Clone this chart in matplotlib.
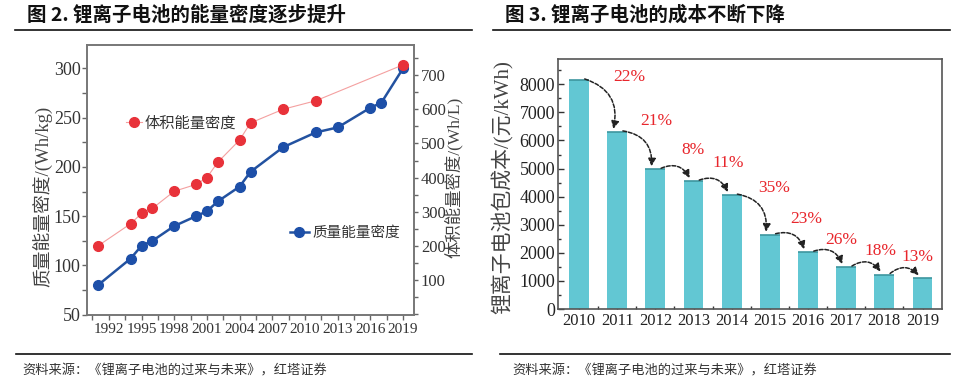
import matplotlib
matplotlib.use('Agg')
import matplotlib.pyplot as plt
from matplotlib.lines import Line2D
from matplotlib.ticker import MultipleLocator, FixedLocator
import numpy as np

plt.rcParams['font.family'] = ['Liberation Serif', 'Noto Sans CJK SC']

# ---------------- data ----------------
vol_years = [1991, 1994, 1995, 1996, 1998, 2000, 2001, 2002, 2004, 2005, 2008, 2011, 2019]
vol_values = [200, 265, 295, 310, 360, 380, 400, 445, 510, 560, 600, 625, 730]
grav_years = [1991, 1994, 1995, 1996, 1998, 2000, 2001, 2002, 2004, 2005, 2008, 2011, 2013, 2016, 2017, 2019]
grav_values = [80, 107, 120, 125, 140, 150, 155, 165, 180, 195, 220, 235, 240, 260, 265, 300]
energy_xticks = [1992, 1995, 1998, 2001, 2004, 2007, 2010, 2013, 2016, 2019]

cost_years = ['2010', '2011', '2012', '2013', '2014', '2015', '2016', '2017', '2018', '2019']
cost_values = [8150, 6300, 4970, 4550, 4050, 2640, 2020, 1490, 1225, 1090]
drop_labels = ['22%', '21%', '8%', '11%', '35%', '23%', '26%', '18%', '13%']

# layout helpers (label offsets in points)
label_offsets_pt = [(8.6, 2.2), (0.7, 7.7), (-0.7, 13.7), (-2.2, 13), (2.9, 5),
                    (-1.4, 11.5), (-3.6, 8.6), (-2.9, 11.5), (-3.6, 13)]

W, H = 966, 388
fig = plt.figure(figsize=(W / 100, H / 100), dpi=100)


def fx(px):
    return px / W


def fy(py):
    return 1 - py / H


CJK = ['Noto Sans CJK SC']
MIX = ['Liberation Serif', 'Noto Sans CJK SC']

# ---------------- titles & decoration ----------------
fig.text(fx(27), fy(15), '图 2. 锂离子电池的能量密度逐步提升', family=CJK, weight='bold',
         fontsize=14, ha='left', va='center', color='#111')
fig.text(fx(505), fy(15), '图 3. 锂离子电池的成本不断下降', family=CJK, weight='bold',
         fontsize=14, ha='left', va='center', color='#111')
for x0, x1 in [(15, 472), (493, 950)]:
    fig.add_artist(Line2D([fx(x0), fx(x1)], [fy(30), fy(30)], color='#111', lw=1.2))
for x0, x1 in [(16, 472), (500, 950)]:
    fig.add_artist(Line2D([fx(x0), fx(x1)], [fy(354), fy(354)], color='#111', lw=1.2))
src = '资料来源：《锂离子电池的过来与未来》，红塔证券'
fig.text(fx(22), fy(371), src, family=CJK, fontsize=9.5, color='#333', ha='left', va='center')
fig.text(fx(512), fy(371), src, family=CJK, fontsize=9.5, color='#333', ha='left', va='center')

# ---------------- left chart ----------------
ax = fig.add_axes([fx(87), fy(315), (414 - 87) / W, (315 - 45) / H])
ax2 = ax.twinx()

grav_line, = ax.plot(grav_years, grav_values, '-o', color='#2352a0', lw=1.8, ms=7,
                     mfc='#1d4fa8', mec='#1d4fa8', zorder=3)
vol_line, = ax2.plot(vol_years, vol_values, '-o', color='#f4a0a0', lw=0.8, ms=7,
                     mfc='#e8323a', mec='#e8323a', zorder=4)

ax.set_xlim(1990, 2020)
ax.set_xticks(energy_xticks)
ax.xaxis.set_minor_locator(FixedLocator(np.arange(1990.5, 2020, 3)))
ax.set_ylim(49.8, 323.6)
ax.yaxis.set_major_locator(MultipleLocator(50))
ax.yaxis.set_minor_locator(MultipleLocator(25))
ax2.set_ylim(-2, 788)
ax2.set_yticks(range(100, 701, 100))
ax2.yaxis.set_minor_locator(MultipleLocator(50))

for a in (ax, ax2):
    for s in a.spines.values():
        s.set_color('#777')
        s.set_linewidth(1.2)
ax.tick_params(axis='both', which='both', direction='out', color='#666', labelcolor='#333')
ax.tick_params(axis='both', which='major', length=3.5, width=1)
ax.tick_params(axis='both', which='minor', length=3.5, width=1)
ax.tick_params(axis='x', labelsize=11, pad=2)
ax.tick_params(axis='y', labelsize=13, pad=1)
ax2.tick_params(axis='y', which='both', direction='out', color='#666', labelcolor='#333',
                length=3, width=1, labelsize=12, pad=2)

ax.text(-0.135, 0.44, '质量能量密度/(Wh/kg)', transform=ax.transAxes, rotation=90,
        ha='center', va='center', family=MIX, fontsize=13.5, color='#444')
ax.text(1.12, 0.51, '体积能量密度/(Wh/L)', transform=ax.transAxes, rotation=90,
        ha='center', va='center', family=MIX, fontsize=12.5, color='#444')

leg1 = ax2.legend([vol_line], ['体积能量密度'], loc='center left', bbox_to_anchor=(0.118, 0.711),
                  frameon=False, handlelength=1.1, handletextpad=0.15, borderpad=0,
                  borderaxespad=0, prop={'family': CJK, 'size': 11})
for t in leg1.get_texts():
    t.set_color('#333')
ax2.add_artist(leg1)
leg2 = ax2.legend([grav_line], ['质量能量密度'], loc='center left', bbox_to_anchor=(0.62, 0.304),
                  frameon=False, handlelength=1.3, handletextpad=0.25, borderpad=0,
                  borderaxespad=0, prop={'family': CJK, 'size': 10.5})
for t in leg2.get_texts():
    t.set_color('#333')

# ---------------- right chart ----------------
ax3 = fig.add_axes([fx(558), fy(309), (942 - 558) / W, (309 - 59) / H])
x = np.arange(len(cost_years))
ax3.bar(x, cost_values, width=0.52, color='#62c7d3', zorder=2)
ax3.hlines(cost_values, x - 0.26, x + 0.26, color='#3d969f', lw=1.2, zorder=3)

ax3.set_xlim(-0.55, 9.51)
ax3.set_ylim(0, 8900)
ax3.set_xticks(x, cost_years)
ax3.xaxis.set_minor_locator(FixedLocator(x[:-1] + 0.5))
ax3.yaxis.set_major_locator(FixedLocator(range(0, 8001, 1000)))
ax3.yaxis.set_minor_locator(FixedLocator(range(500, 8600, 1000)))
for s in ax3.spines.values():
    s.set_color('#555')
    s.set_linewidth(1.2)
ax3.tick_params(axis='both', which='both', direction='in', color='#333', labelcolor='#222')
ax3.tick_params(axis='both', which='major', length=4, width=1)
ax3.tick_params(axis='both', which='minor', length=2.5, width=1)
ax3.tick_params(axis='x', labelsize=12, pad=3)
ax3.tick_params(axis='y', labelsize=13, pad=2)

ax3.text(-0.145, 0.488, '锂离子电池包成本/(元/kWh)', transform=ax3.transAxes, rotation=90,
         ha='center', va='center', family=MIX, fontsize=15, color='#444')

for i in range(len(cost_values) - 1):
    ax3.annotate('', xy=(i + 0.9, cost_values[i + 1] + 110),
                 xytext=(i + 0.15, cost_values[i] + 40),
                 arrowprops=dict(arrowstyle='-|>,head_length=0.45,head_width=0.22',
                                 connectionstyle='arc3,rad=-0.45', color='#222', lw=1.1,
                                 linestyle=(0, (2.5, 1.2)), shrinkA=0, shrinkB=0),
                 zorder=4)
    dx, dy = label_offsets_pt[i]
    ax3.annotate(drop_labels[i], xy=(i + 1, cost_values[i]), xytext=(dx, dy),
                 textcoords='offset points', ha='center', va='center',
                 color='#e8262c', fontsize=12.5, family=MIX, zorder=5)

fig.savefig('out.png', dpi=100)
